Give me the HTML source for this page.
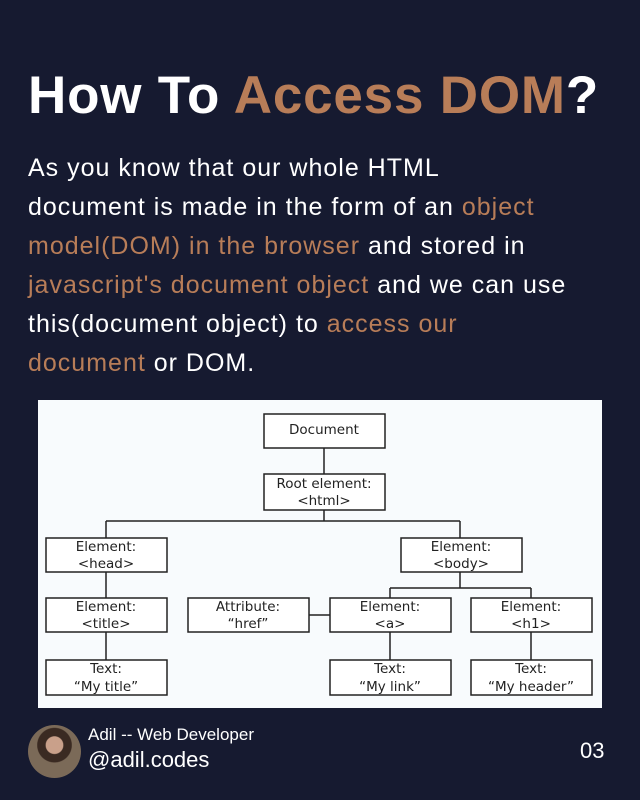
<!DOCTYPE html>
<html><head><meta charset="utf-8"><style>
body{margin:0;width:640px;height:800px;background:#161a30;font-family:"Liberation Sans",sans-serif;color:#fff;position:relative;overflow:hidden}
h1{position:absolute;left:28px;top:65px;margin:0;font-size:53px;font-weight:bold;letter-spacing:0.8px;white-space:nowrap}
.a{color:#b87d58}
p{position:absolute;left:28px;top:149px;margin:0;font-size:25px;letter-spacing:1px;line-height:39px;width:610px;white-space:nowrap}
.av{position:absolute;left:28px;top:725px;width:53px;height:53px;border-radius:50%;background:radial-gradient(circle at 50% 38%,#c9a08a 0 20%,#3a2a22 22% 40%,#7b6a58 42%)}
.n1{position:absolute;left:88px;top:725px;font-size:17px}
.n2{position:absolute;left:88px;top:747px;font-size:22px}
.pg{position:absolute;left:580px;top:738px;font-size:22px}
</style></head><body>
<h1>How To <span class="a">Access DOM</span>?</h1>
<p>As you know that our whole HTML<br>document is made in the form of an <span class="a">object</span><br><span class="a">model(DOM) in the browser</span> and stored in<br><span class="a">javascript's document object</span> and we can use<br>this(document object) to <span class="a">access our</span><br><span class="a">document</span> or DOM.</p>
<svg style="position:absolute;left:0;top:0" width="640" height="800" font-family="DejaVu Sans, sans-serif" font-size="13.5" text-anchor="middle">
<rect x="38" y="400" width="564" height="308" fill="#f8fbfd"/>
<g stroke="#222" stroke-width="1.5" fill="none">
<line x1="324" y1="448" x2="324" y2="474"/>
<line x1="324" y1="510" x2="324" y2="521"/>
<line x1="106" y1="521" x2="460" y2="521"/>
<line x1="106" y1="521" x2="106" y2="538"/>
<line x1="460" y1="521" x2="460" y2="538"/>
<line x1="106" y1="572" x2="106" y2="598"/>
<line x1="106" y1="632" x2="106" y2="660"/>
<line x1="460" y1="572" x2="460" y2="588"/>
<line x1="390" y1="588" x2="531" y2="588"/>
<line x1="390" y1="588" x2="390" y2="598"/>
<line x1="531" y1="588" x2="531" y2="598"/>
<line x1="309" y1="615" x2="330" y2="615"/>
<line x1="390" y1="632" x2="390" y2="660"/>
<line x1="531" y1="632" x2="531" y2="660"/>
<rect x="264" y="414" width="121" height="34" fill="#fff"/>
<rect x="264" y="474" width="121" height="36" fill="#fff"/>
<rect x="46" y="538" width="121" height="34" fill="#fff"/>
<rect x="401" y="538" width="121" height="34" fill="#fff"/>
<rect x="46" y="598" width="121" height="34" fill="#fff"/>
<rect x="188" y="598" width="121" height="34" fill="#fff"/>
<rect x="330" y="598" width="121" height="34" fill="#fff"/>
<rect x="471" y="598" width="121" height="34" fill="#fff"/>
<rect x="46" y="660" width="121" height="35" fill="#fff"/>
<rect x="330" y="660" width="121" height="35" fill="#fff"/>
<rect x="471" y="660" width="121" height="35" fill="#fff"/>
</g>
<g fill="#222">
<text x="324" y="434">Document</text>
<text x="324" y="488">Root element:</text><text x="324" y="505">&lt;html&gt;</text>
<text x="106" y="551">Element:</text><text x="106" y="568">&lt;head&gt;</text>
<text x="461" y="551">Element:</text><text x="461" y="568">&lt;body&gt;</text>
<text x="106" y="611">Element:</text><text x="106" y="628">&lt;title&gt;</text>
<text x="248" y="611">Attribute:</text><text x="248" y="628">“href”</text>
<text x="390" y="611">Element:</text><text x="390" y="628">&lt;a&gt;</text>
<text x="531" y="611">Element:</text><text x="531" y="628">&lt;h1&gt;</text>
<text x="106" y="673">Text:</text><text x="106" y="691">“My title”</text>
<text x="390" y="673">Text:</text><text x="390" y="691">“My link”</text>
<text x="531" y="673">Text:</text><text x="531" y="691">“My header”</text>
</g>
</svg>
<div class="av"></div>
<div class="n1">Adil -- Web Developer</div>
<div class="n2">@adil.codes</div>
<div class="pg">03</div>
</body></html>
